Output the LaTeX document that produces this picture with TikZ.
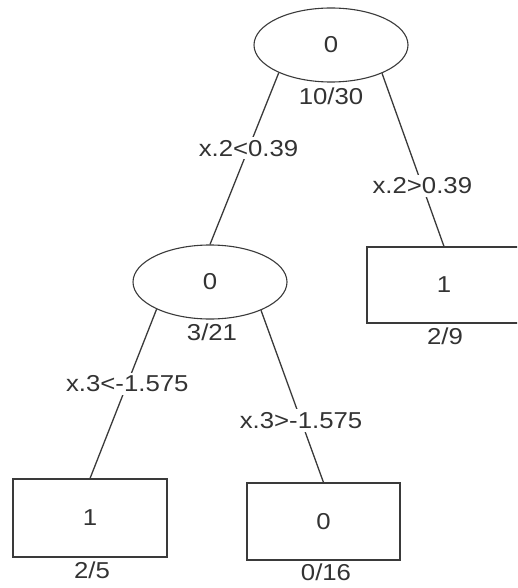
\documentclass[tikz,border=0pt]{standalone}
\usepackage{fontspec}
\setmainfont[FakeStretch=1.12]{Liberation Sans}
\usetikzlibrary{shapes.geometric}
\definecolor{ink}{HTML}{333333}
\definecolor{edge}{HTML}{3A3A3A}
\tikzset{
  txt/.style={text=ink,font=\fontsize{23}{27}\selectfont},
  splitnode/.style={ellipse,draw=edge,line width=1.1pt,minimum width=154pt,minimum height=74pt,inner sep=0pt,txt},
  leafnode/.style={rectangle,draw=edge,line width=1.1pt,inner sep=0pt,txt},
  conn/.style={draw=edge,line width=1.3pt},
  cond/.style={fill=white,inner sep=3pt,txt},
  stat/.style={inner sep=0pt,txt}
}
\begin{document}
\begin{tikzpicture}[x=1pt,y=-1pt]
\useasboundingbox (0,0) rectangle (517,588);
\clip (0,0) rectangle (517,588);
\fill[white] (0,0) rectangle (517,588);
% nodes
\node[splitnode] (root) at (331,45) {0};
\node[stat] (rootc) at (331,96) {10/30};
\node[splitnode] (mid) at (210,282) {0};
\node[stat] (midc) at (212,332) {3/21};
\node[leafnode,minimum width=154pt,minimum height=78pt] (leafL) at (90,518) {1};
\node[stat] (leafLc) at (92,570) {2/5};
\node[leafnode,minimum width=153pt,minimum height=77pt] (leafM) at (323.5,521.5) {0};
\node[stat] (leafMc) at (326,572) {0/16};
\node[leafnode,minimum width=154pt,minimum height=76pt] (leafR) at (444,285) {1};
\node[stat] (leafRc) at (445,336) {2/9};
% connectors
\draw[conn] (root.208) -- node[cond,pos=0.44] {x.2<0.39} (mid.north);
\draw[conn] (root.331) -- node[cond,pos=0.65] {x.2>0.39} (leafR.north);
\draw[conn] (mid.207) -- node[cond,pos=0.44] {x.3<-1.575} (leafL.north);
\draw[conn] (mid.331) -- node[cond,pos=0.64] {x.3>-1.575} (leafM.north);
\end{tikzpicture}
\end{document}
